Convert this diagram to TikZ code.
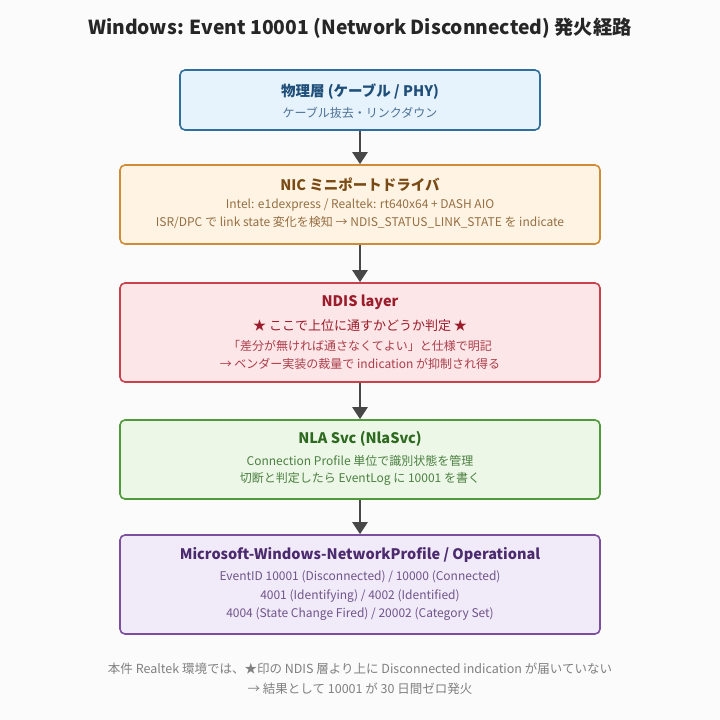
\documentclass[tikz,border=0pt]{standalone}
\usepackage{fontspec}
\setmainfont{Noto Sans CJK JP}
\usetikzlibrary{arrows.meta}
\definecolor{bg}{HTML}{FBFBFB}
\definecolor{fa}{HTML}{E6F3FD}\definecolor{da}{HTML}{2E6F9E}\definecolor{ta}{HTML}{1F4E79}
\definecolor{fb}{HTML}{FFF4E3}\definecolor{db}{HTML}{D08B35}\definecolor{tb}{HTML}{7A4A14}
\definecolor{fc}{HTML}{FDE6E8}\definecolor{dc}{HTML}{C8414B}\definecolor{tc}{HTML}{9B1C2A}
\definecolor{fd}{HTML}{ECF7E7}\definecolor{dd}{HTML}{4F9A3A}\definecolor{td}{HTML}{2D6A1F}
\definecolor{fe}{HTML}{F1EAF8}\definecolor{de}{HTML}{7B4F9E}\definecolor{te}{HTML}{4B2A6E}
\tikzset{
 box/.style={draw, line width=1.6pt, rounded corners=5pt, inner sep=0pt},
 ttl/.style={font=\fontsize{14.5}{16}\selectfont\bfseries, inner sep=0pt},
 sub/.style={font=\fontsize{12}{14}\selectfont, inner sep=0pt},
 arr/.style={draw=black!72, line width=2.4pt, -{Triangle[length=12pt,width=15pt]}}
}
\begin{document}
\begin{tikzpicture}[x=1pt,y=-1pt]
\fill[bg] (0,0) rectangle (720,720);
\useasboundingbox (0,0) rectangle (720,720);
\node[font=\fontsize{19.3}{21}\selectfont\bfseries, text=black!85, inner sep=0pt] (t) at (360,28) {Windows: Event 10001 (Network Disconnected) 発火経路};
\node[box, draw=da, fill=fa, minimum width=360pt, minimum height=60pt] (b1) at (360,100) {};
\node[ttl, text=ta] (b1t) at (360,92) {物理層 (ケーブル / PHY)};
\node[sub, text=ta!80] (b1s) at (360,113) {ケーブル抜去・リンクダウン};
\node[box, draw=db, fill=fb, minimum width=480pt, minimum height=79pt] (b2) at (360,204.5) {};
\node[ttl, text=tb] (b2t) at (360,185) {NIC ミニポートドライバ};
\node[sub, text=tb!80] (b2a) at (360,205) {Intel: e1dexpress / Realtek: rt640x64 + DASH AIO};
\node[sub, text=tb!80] (b2b) at (360,223) {ISR/DPC で link state 変化を検知 → NDIS\_STATUS\_LINK\_STATE を indicate};
\node[box, draw=dc, fill=fc, minimum width=480pt, minimum height=99pt] (b3) at (360,332.5) {};
\node[ttl, text=tc] (b3t) at (360,302) {NDIS layer};
\node[sub, text=tc, font=\fontsize{13}{15}\selectfont] (b3a) at (360,326) {★ ここで上位に通すかどうか判定 ★};
\node[sub, text=tc!85] (b3b) at (360,346) {「差分が無ければ通さなくてよい」と仕様で明記};
\node[sub, text=tc!85] (b3c) at (360,364) {→ ベンダー実装の裁量で indication が抑制され得る};
\node[box, draw=dd, fill=fd, minimum width=480pt, minimum height=79pt] (b4) at (360,459.5) {};
\node[ttl, text=td] (b4t) at (360,439) {NLA Svc (NlaSvc)};
\node[sub, text=td!85] (b4a) at (360,461) {Connection Profile 単位で識別状態を管理};
\node[sub, text=td!85] (b4b) at (360,479) {切断と判定したら EventLog に 10001 を書く};
\node[box, draw=de, fill=fe, minimum width=480pt, minimum height=99pt] (b5) at (360,584.5) {};
\node[ttl, text=te] (b5t) at (360,555) {Microsoft-Windows-NetworkProfile / Operational};
\node[sub, text=te!80] (b5a) at (360,577) {EventID 10001 (Disconnected) / 10000 (Connected)};
\node[sub, text=te!80] (b5b) at (360,596) {4001 (Identifying) / 4002 (Identified)};
\node[sub, text=te!80] (b5c) at (360,614) {4004 (State Change Fired) / 20002 (Category Set)};
\node[sub, text=black!50, font=\fontsize{12.5}{14}\selectfont] (f1) at (360,669) {本件 Realtek 環境では、★印の NDIS 層より上に Disconnected indication が届いていない};
\node[sub, text=black!50, font=\fontsize{12.5}{14}\selectfont] (f2) at (360,689) {→ 結果として 10001 が 30 日間ゼロ発火};
\draw[arr] (b1) -- (b2);
\draw[arr] (b2) -- (b3);
\draw[arr] (b3) -- (b4);
\draw[arr] (b4) -- (b5);
\end{tikzpicture}
\end{document}
